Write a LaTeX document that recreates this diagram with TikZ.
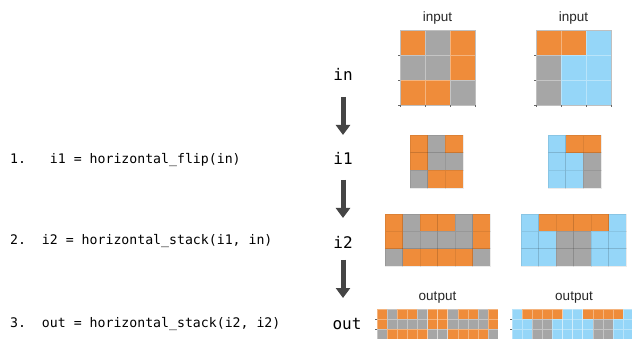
\documentclass[tikz,border=0pt]{standalone}
\usepackage{fontspec}
\setmainfont{Liberation Sans}
\newfontfamily\codefont{DejaVu Sans Mono}
\usetikzlibrary{arrows.meta}
\definecolor{colO}{HTML}{EF8C3A}
\definecolor{colG}{HTML}{A6A6A6}
\definecolor{colB}{HTML}{95D6F8}
\definecolor{arrowgray}{HTML}{454545}
\newcommand\cellgrid[6]{%
  \foreach \row [count=\r from 0] in {#6} {
    \foreach \c [count=\k from 0] in \row {
      \fill[fill=col\c] ({#1+\k*#3},{#2+\r*#4}) rectangle ++(#3,#4);
      \draw[#5] ({#1+\k*#3},{#2+\r*#4}) rectangle ++(#3,#4);
    }}}
\newcommand\gridticks[6]{% x0,y0,w,h,ncols,nrows
  \foreach \k in {0,...,#5} \draw[tickline] ({#1+\k*#3},{#2+#6*#4}) -- ++(0,2.5);
  \foreach \r in {1,...,#6} \draw[tickline] (#1,{#2+\r*#4}) -- ++(-2.5,0);}
\begin{document}
\begin{tikzpicture}[x=1pt,y=-1pt,
  lightline/.style={draw=white,opacity=0.35,line width=0.5pt},
  darkline/.style={draw=black,opacity=0.08,line width=0.6pt},
  tickline/.style={draw=black!60,line width=0.5pt},
  spine/.style={draw=black!25,line width=0.5pt},
  title/.style={font=\fontsize{13.5}{15}\selectfont,text=black!85,anchor=base,inner sep=0pt},
  varlabel/.style={font=\codefont\fontsize{16}{18}\selectfont,anchor=base,inner sep=0pt},
  codeline/.style={font=\codefont\fontsize{13.2}{15}\selectfont,anchor=base west,inner sep=0pt},
  bigarrow/.style={draw=arrowgray,line width=5pt,-{Triangle[width=14pt,length=10pt]}}]
\useasboundingbox (0,0) rectangle (632,339);
\clip (0,0) rectangle (632,339);
\fill[white] (0,0) rectangle (632,339);

% input grids
\cellgrid{400}{30}{25}{25}{lightline}{{O,G,O},{G,G,O},{O,O,G}}
\draw[spine] (400,30) rectangle (475,105);
\gridticks{400}{30}{25}{25}{3}{3}
\cellgrid{536}{30}{25}{25}{lightline}{{O,O,B},{G,B,B},{G,B,B}}
\draw[spine] (536,30) rectangle (611,105);
\gridticks{536}{30}{25}{25}{3}{3}

% i1 grids
\cellgrid{410}{135}{17.67}{17.67}{darkline}{{O,G,O},{O,G,G},{G,O,O}}
\cellgrid{548}{135}{17.67}{17.67}{darkline}{{B,O,O},{B,B,G},{B,B,G}}

% i2 grids
\cellgrid{385}{214}{17.5}{17.33}{darkline}{{O,G,O,O,G,O},{O,G,G,G,G,O},{G,O,O,O,O,G}}
\cellgrid{521}{214}{17.5}{17.33}{darkline}{{B,O,O,O,O,B},{B,B,G,G,B,B},{B,B,G,G,B,B}}

% output grids
\cellgrid{377}{309}{10.1}{10.1}{lightline}{{O,G,O,O,G,O,O,G,O,O,G,O},{O,G,G,G,G,O,O,G,G,G,G,O},{G,O,O,O,O,G,G,O,O,O,O,G}}
\gridticks{377}{309}{10.1}{10.1}{12}{3}
\cellgrid{512}{309}{10.1}{10.1}{lightline}{{B,O,O,O,O,B,B,O,O,O,O,B},{B,B,G,G,B,B,B,B,G,G,B,B},{B,B,G,G,B,B,B,B,G,G,B,B}}
\gridticks{512}{309}{10.1}{10.1}{12}{3}

% titles
\node[title] (tin1) at (437.5,22) {input};
\node[title] (tin2) at (573.5,22) {input};
\node[title] (tout1) at (437.5,300) {output};
\node[title] (tout2) at (574,300) {output};

% variable labels
\node[varlabel] (lin) at (343,81) {in};
\node[varlabel] (li1) at (343,165) {i1};
\node[varlabel] (li2) at (343,248) {i2};
\node[varlabel] (lout) at (347,329) {out};

\draw[bigarrow] ([yshift=-16pt]lin.base) -- ([yshift=30pt]li1.base);
\draw[bigarrow] ([yshift=-15pt]li1.base) -- ([yshift=30pt]li2.base);
\draw[bigarrow] ([yshift=-12pt]li2.base) -- ([xshift=-4pt,yshift=31pt]lout.base);

% code lines
\node[codeline] (c1) at (10,164) {1.\ \ \ i1 = horizontal\_flip(in)};
\node[codeline] (c2) at (10,245) {2.\ \ i2 = horizontal\_stack(i1, in)};
\node[codeline] (c3) at (10,327) {3.\ \ out = horizontal\_stack(i2, i2)};
\end{tikzpicture}
\end{document}
